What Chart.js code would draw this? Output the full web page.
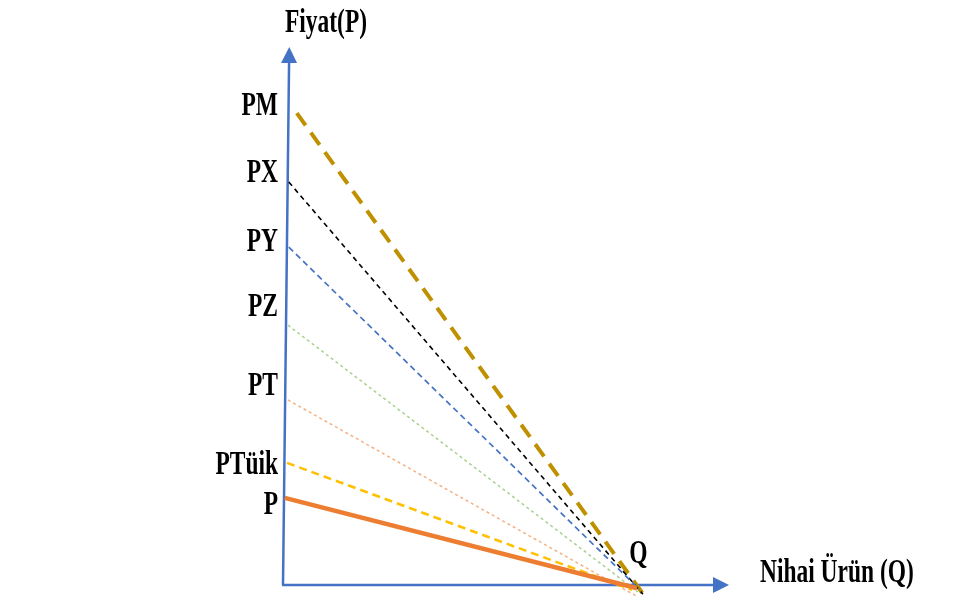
<!DOCTYPE html>
<html>
<head>
<meta charset="utf-8">
<script src="https://cdn.jsdelivr.net/npm/chart.js@4"></script>
<style>
  html,body{margin:0;padding:0;background:#fff;}
  #wrap{width:980px;height:601px;}
</style>
</head>
<body>
<div id="wrap"><canvas id="c" width="980" height="601"></canvas></div>
<script>
// ---- data (Q on x, P on y) ----
const seriesNames = ['PM', 'PX', 'PY', 'PZ', 'PT', 'PTüik', 'P'];
const startQ = [3.1, 1.3, 1.3, 1.1, 1.1, 0.9, 0.4];
const startP = [87.7, 74.9, 62.8, 48.3, 34.4, 22.7, 16.2];
const endQ   = [81.2, 80.7, 80.0, 79.6, 79.1, 78.3, 79.4];
const endP   = [-2.2, -1.7, -0.9, -1.3, -2.0, -0.9, -0.6];

// price level labels on the P axis (label text, P value of baseline)
const priceLabels = ['PM', 'PX', 'PY', 'PZ', 'PT', 'PTüik', 'P'];
const priceLabelAt = [87.4, 74.9, 62.1, 50.0, 35.3, 20.6, 13.2];
// equilibrium quantity label
const qLabel = 'Q';
const qLabelAt = [79.7, 4.0];
// axis titles
const yTitle = 'Fiyat(P)';
const xTitle = 'Nihai Ürün (Q)';
// axis lines: from origin to arrow tip
const yAxisQ = [0, 1.4];
const yAxisP = [0, 100];
const xAxisQ = [0, 100];
const xAxisP = [0, 0];

// ---- styles ----
const styles = [
  {color: '#BF9000', width: 4,   dash: [15, 9]},
  {color: '#000000', width: 1.6, dash: [5, 4]},
  {color: '#4472C4', width: 1.7, dash: [6, 4]},
  {color: '#A9D18E', width: 1.5, dash: [3, 3]},
  {color: '#F4B183', width: 1.5, dash: [3, 3]},
  {color: '#FFC000', width: 2.6, dash: [8, 5]},
  {color: '#ED7D31', width: 4.5, dash: []}
];

const datasets = seriesNames.map((n, i) => ({
  label: n,
  data: [{x: startQ[i], y: startP[i]}, {x: endQ[i], y: endP[i]}],
  showLine: true,
  borderColor: styles[i].color,
  borderWidth: styles[i].width,
  borderDash: styles[i].dash,
  borderCapStyle: 'butt',
  pointRadius: 0,
  clip: false,
  order: seriesNames.length - i
}));

const FONT = 'bold 34px "Liberation Serif", "Times New Roman", serif';
const SQUEEZE = 0.69;

function drawText(ctx, txt, x, y, align) {
  ctx.save();
  ctx.translate(x, y);
  ctx.scale(SQUEEZE, 1);
  ctx.font = FONT;
  ctx.fillStyle = '#000';
  ctx.textAlign = align;
  ctx.textBaseline = 'alphabetic';
  ctx.fillText(txt, 0, 0);
  ctx.restore();
}

function arrowLine(ctx, x0, y0, x1, y1, color) {
  const ang = Math.atan2(y1 - y0, x1 - x0);
  const head = 16, half = 8;
  const bx = x1 - head * Math.cos(ang), by = y1 - head * Math.sin(ang);
  ctx.save();
  ctx.strokeStyle = color;
  ctx.lineWidth = 2.5;
  ctx.beginPath();
  ctx.moveTo(x0, y0);
  ctx.lineTo(bx, by);
  ctx.stroke();
  ctx.fillStyle = color;
  ctx.beginPath();
  ctx.moveTo(x1, y1);
  ctx.lineTo(bx + half * Math.sin(ang), by - half * Math.cos(ang));
  ctx.lineTo(bx - half * Math.sin(ang), by + half * Math.cos(ang));
  ctx.closePath();
  ctx.fill();
  ctx.restore();
}

const diagram = {
  id: 'diagram',
  beforeDatasetsDraw(chart) {
    const {ctx, scales: {x, y}} = chart;
    arrowLine(ctx, x.getPixelForValue(yAxisQ[0]), y.getPixelForValue(yAxisP[0]),
                   x.getPixelForValue(yAxisQ[1]), y.getPixelForValue(yAxisP[1]), '#4472C4');
    arrowLine(ctx, x.getPixelForValue(xAxisQ[0]) - 1, y.getPixelForValue(xAxisP[0]),
                   x.getPixelForValue(xAxisQ[1]), y.getPixelForValue(xAxisP[1]), '#4472C4');
  },
  afterDatasetsDraw(chart) {
    const {ctx, scales: {x, y}} = chart;
    const left = x.getPixelForValue(0);
    priceLabels.forEach((t, i) => drawText(ctx, t, left - 5, y.getPixelForValue(priceLabelAt[i]), 'right'));
    drawText(ctx, qLabel, x.getPixelForValue(qLabelAt[0]), y.getPixelForValue(qLabelAt[1]), 'center');
    drawText(ctx, yTitle, left + 2, 32, 'left');
    drawText(ctx, xTitle, x.getPixelForValue(xAxisQ[1]) + 31, y.getPixelForValue(0) - 3, 'left');
  }
};

new Chart(document.getElementById('c'), {
  type: 'scatter',
  data: {datasets},
  options: {
    responsive: false,
    devicePixelRatio: 1,
    animation: false,
    layout: {padding: {left: 283, right: 251, top: 47, bottom: 16}},
    plugins: {legend: {display: false}, tooltip: {enabled: false}},
    scales: {
      x: {type: 'linear', min: 0, max: 100, display: false},
      y: {type: 'linear', min: 0, max: 100, display: false}
    }
  },
  plugins: [diagram]
});
</script>
</body>
</html>
